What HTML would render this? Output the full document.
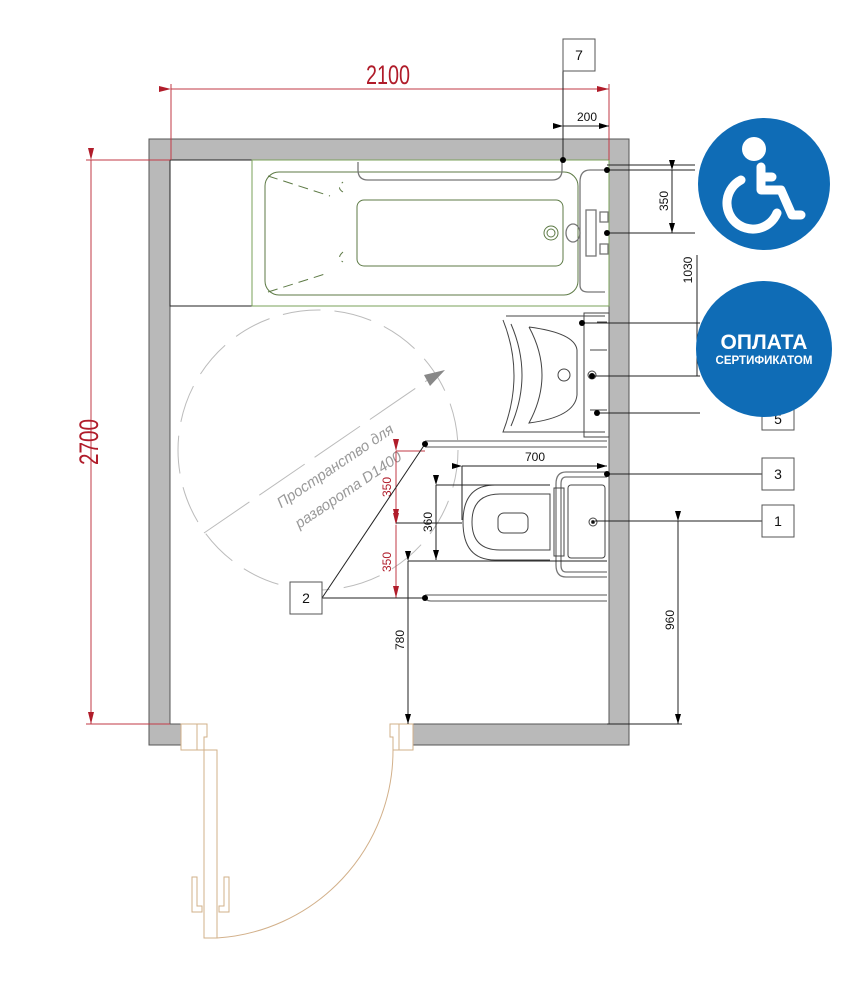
<!DOCTYPE html>
<html><head><meta charset="utf-8"><style>
html,body{margin:0;padding:0;background:#fff;}
svg{display:block;}
text{font-family:"Liberation Sans","DejaVu Sans",sans-serif;}
</style></head><body>
<svg width="855" height="1000" viewBox="0 0 855 1000" xmlns="http://www.w3.org/2000/svg">
<defs>
<marker id="ab" markerWidth="10" markerHeight="6" refX="10" refY="3" orient="auto" markerUnits="userSpaceOnUse"><path d="M0,0 L10,3 L0,6z" fill="#000"/></marker>
<marker id="ar" markerWidth="12" markerHeight="6" refX="12" refY="3" orient="auto" markerUnits="userSpaceOnUse"><path d="M0,0 L12,3 L0,6z" fill="#b01c2a"/></marker>
</defs>
<g fill="#b9b9b9" stroke="#555" stroke-width="1">
<path d="M149,139 H629 V745 H413 V724 H609 V160 H170 V724 H181 V745 H149 Z"/>
</g>
<rect x="170" y="160" width="82" height="146" fill="#fff" stroke="#222" stroke-width="1"/>
<rect x="252" y="160" width="357" height="146" fill="#fff" stroke="#7aa05a" stroke-width="1"/>
<g fill="none" stroke="#5d7a45" stroke-width="1">
<rect x="265" y="172" width="313" height="123" rx="14"/>
<rect x="357" y="200" width="206" height="66" rx="7"/>
<path d="M343,192 Q336,188 343,182 M343,252 Q336,258 343,262" stroke-dasharray="6 5"/>
<path d="M268,176 L330,196 M268,292 L325,274" stroke-dasharray="10 6"/>
<circle cx="551" cy="233" r="7"/><circle cx="551" cy="233" r="4"/>
</g>
<g fill="none" stroke="#777" stroke-width="1.3">
<path d="M358,162 V170 Q358,180 368,180 H552 Q562,180 562,170 V162"/>
<path d="M605,170 H590 Q580,170 580,182 V285 Q580,292 588,292 H605"/>
<ellipse cx="573" cy="233" rx="7" ry="9"/>
<rect x="586" y="210" width="10" height="46"/>
<rect x="600" y="212" width="8" height="10"/><rect x="600" y="244" width="8" height="10"/>
</g>
<g fill="none" stroke="#444" stroke-width="1">
<rect x="584" y="313" width="25" height="124"/>
<path d="M506,316 H605 M503,320 Q525,375 503,432 H605 M511,324 Q533,375 511,426"/>
<path d="M529,327 Q575,333 577,350 L577,395 Q575,417 529,423 Q555,375 529,327"/>
<circle cx="564" cy="375" r="6"/><circle cx="592" cy="375" r="4"/>
<path d="M597,322 L607,322 M590,350 L607,350 M590,410 L607,410"/>
</g>
<g fill="none" stroke="#777" stroke-width="1.3">
<path d="M425,441 H607 M425,447 H607"/>
<path d="M425,595 Q425,601 431,601 H607 M425,595 H607"/>
<path d="M607,472 H566 Q556,472 556,484 V565 Q556,577 566,577 H607 M607,477 H566 Q561,477 561,484 V565 Q561,572 566,572 H607"/>
</g>
<g fill="none" stroke="#444" stroke-width="1">
<path d="M550,485 H495 Q463,485 463,522 Q463,560 495,560 H550"/>
<path d="M550,494 H500 Q472,494 472,522 Q472,550 500,550 H550 Z"/>
<rect x="498" y="513" width="30" height="20" rx="6"/>
<rect x="554" y="488" width="10" height="68"/>
<rect x="568" y="485" width="37" height="73" rx="3"/>
<circle cx="593" cy="522" r="4"/><circle cx="593" cy="522" r="1.5" fill="#000"/>
</g>
<circle cx="318" cy="450" r="140" fill="none" stroke="#bbb" stroke-width="1" stroke-dasharray="38 14"/>
<line x1="204" y1="533" x2="432" y2="377" stroke="#bbb" stroke-width="1" stroke-dasharray="55 12"/>
<path d="M445,370 L424,375 L430,386 Z" fill="#888"/>
<text transform="translate(338,470) rotate(-34)" font-size="15" fill="#999" font-style="italic" text-anchor="middle">Пространство для</text>
<text transform="translate(351,494) rotate(-34)" font-size="15" fill="#999" font-style="italic" text-anchor="middle">разворота D1400</text>
<g fill="#fff" stroke="#d2b08a" stroke-width="1">
<path d="M181,724 H207 V737 H204 V750 H181 Z"/><line x1="197" y1="724" x2="197" y2="750"/>
<path d="M390,724 H413 V750 H393 V737 H390 Z"/><line x1="399" y1="724" x2="399" y2="750"/>
<rect x="204" y="750" width="13" height="188"/>
<path d="M192,877 H197 V906 H202 V912 H192 Z M229,877 H224 V906 H219 V912 H229 Z"/>
<path d="M217,938 A188,188 0 0 0 393,750" fill="none"/>
</g>
<g stroke="#c23a46" stroke-width="1" fill="none">
<line x1="171" y1="84" x2="171" y2="160"/><line x1="609" y1="84" x2="609" y2="160"/>
<line x1="171" y1="89" x2="609" y2="89" marker-start="url(#ar)" marker-end="url(#ar)"/>
<line x1="86" y1="160" x2="170" y2="160"/><line x1="86" y1="724" x2="170" y2="724"/>
<line x1="91" y1="160" x2="91" y2="724" marker-start="url(#ar)" marker-end="url(#ar)"/>
<line x1="396" y1="451" x2="396" y2="521" marker-start="url(#ar)" marker-end="url(#ar)"/>
<line x1="396" y1="525" x2="396" y2="598" marker-start="url(#ar)" marker-end="url(#ar)"/>
<line x1="396" y1="451" x2="425" y2="451"/>
</g>
<text x="388" y="84" font-size="27" fill="#b01c2a" text-anchor="middle" textLength="44" lengthAdjust="spacingAndGlyphs">2100</text>
<text transform="translate(98,442) rotate(-90)" font-size="27" fill="#b01c2a" text-anchor="middle" textLength="46" lengthAdjust="spacingAndGlyphs">2700</text>
<text transform="translate(391,487) rotate(-90)" font-size="12" fill="#b01c2a" text-anchor="middle">350</text>
<text transform="translate(391,562) rotate(-90)" font-size="12" fill="#b01c2a" text-anchor="middle">350</text>
<g stroke="#222" stroke-width="1" fill="none">
<line x1="563" y1="71" x2="563" y2="160"/>
<line x1="563" y1="126" x2="609" y2="126" marker-start="url(#ab)" marker-end="url(#ab)"/>
<line x1="607" y1="165" x2="695" y2="165"/><line x1="607" y1="170" x2="695" y2="170"/>
<line x1="607" y1="233" x2="695" y2="233"/>
<line x1="672" y1="170" x2="672" y2="233" marker-start="url(#ab)" marker-end="url(#ab)"/>
<line x1="697" y1="255" x2="697" y2="376"/>
<line x1="584" y1="323" x2="700" y2="323"/><line x1="592" y1="376" x2="700" y2="376"/>
<line x1="597" y1="413" x2="700" y2="413"/>
<line x1="462" y1="466" x2="462" y2="520"/>
<line x1="462" y1="466" x2="607" y2="466" marker-start="url(#ab)" marker-end="url(#ab)"/>
<line x1="436" y1="485" x2="550" y2="485"/>
<line x1="436" y1="485" x2="436" y2="560" marker-start="url(#ab)" marker-end="url(#ab)"/>
<line x1="396" y1="523" x2="462" y2="523"/>
<line x1="408" y1="561" x2="607" y2="561"/>
<line x1="408" y1="561" x2="408" y2="724" marker-start="url(#ab)" marker-end="url(#ab)"/>
<line x1="607" y1="724" x2="682" y2="724"/><line x1="595" y1="521" x2="762" y2="521"/>
<line x1="678" y1="521" x2="678" y2="724" marker-start="url(#ab)" marker-end="url(#ab)"/>
<line x1="607" y1="474" x2="762" y2="474"/>
<line x1="322" y1="598" x2="425" y2="444"/><line x1="322" y1="598" x2="425" y2="598"/>
</g>
<g fill="#000">
<circle cx="563" cy="160" r="3"/><circle cx="607" cy="170" r="3"/><circle cx="607" cy="233" r="3"/>
<circle cx="582" cy="323" r="3"/><circle cx="592" cy="376" r="3"/><circle cx="597" cy="413" r="3"/>
<circle cx="425" cy="444" r="3"/><circle cx="425" cy="598" r="3"/><circle cx="607" cy="474" r="3"/>
</g>
<g font-size="12" fill="#111" text-anchor="middle">
<text x="587" y="121">200</text>
<text transform="translate(668,201) rotate(-90)">350</text>
<text transform="translate(692,270) rotate(-90)">1030</text>
<text x="535" y="461">700</text>
<text transform="translate(432,522) rotate(-90)">360</text>
<text transform="translate(404,640) rotate(-90)">780</text>
<text transform="translate(674,620) rotate(-90)">960</text>
</g>
<g fill="#fff" stroke="#555" stroke-width="1">
<rect x="563" y="39" width="32" height="32"/>
<rect x="290" y="582" width="32" height="32"/>
<rect x="762" y="398" width="32" height="32"/>
<rect x="762" y="458" width="32" height="32"/>
<rect x="762" y="505" width="32" height="32"/>
</g>
<g font-size="14" fill="#111" text-anchor="middle">
<text x="579" y="60">7</text><text x="306" y="603">2</text><text x="778" y="424">5</text>
<text x="778" y="479">3</text><text x="778" y="526">1</text>
</g>
<circle cx="764" cy="184" r="66" fill="#0f6cb6"/>
<circle cx="754" cy="149" r="12" fill="#fff"/>
<g fill="none" stroke="#fff" stroke-width="9" stroke-linecap="round" stroke-linejoin="round">
<path d="M761,167 V190 H781 L792,215 H801"/>
<line x1="761" y1="177" x2="772" y2="177"/>
<path d="M741,180 A26,26 0 1 0 777,213"/>
</g>
<circle cx="764" cy="349" r="68" fill="#0f6cb6"/>
<text x="764" y="349" font-size="21" font-weight="bold" fill="#fff" text-anchor="middle">ОПЛАТА</text>
<text x="764" y="364" font-size="11.5" font-weight="bold" fill="#fff" text-anchor="middle">СЕРТИФИКАТОМ</text>
</svg>
</body></html>
